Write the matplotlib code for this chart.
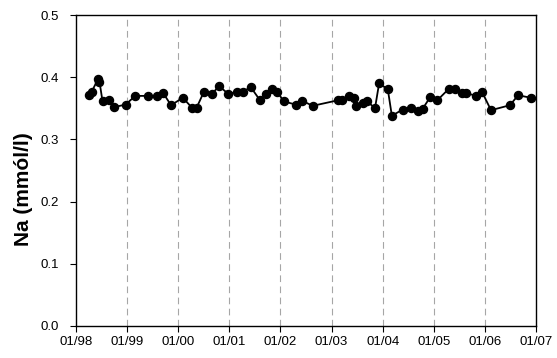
import matplotlib
matplotlib.use("Agg")
import matplotlib.pyplot as plt
import numpy as np

plt.rcParams['font.family'] = ['Liberation Sans', 'DejaVu Sans']

# sampling time (decimal year) and sodium concentration
t = [1998.26, 1998.31, 1998.43, 1998.46, 1998.52, 1998.64, 1998.75, 1998.97,
     1999.16, 1999.40, 1999.58, 1999.71, 1999.86, 2000.09, 2000.27, 2000.36,
     2000.50, 2000.66, 2000.80, 2000.98, 2001.16, 2001.27, 2001.42, 2001.60,
     2001.72, 2001.83, 2001.93, 2002.07, 2002.30, 2002.43, 2002.63, 2003.13,
     2003.20, 2003.35, 2003.43, 2003.48, 2003.61, 2003.69, 2003.85, 2003.93,
     2004.10, 2004.18, 2004.39, 2004.55, 2004.70, 2004.78, 2004.93, 2005.07,
     2005.29, 2005.42, 2005.55, 2005.63, 2005.82, 2005.94, 2006.12, 2006.49,
     2006.65, 2006.90]
na = [0.371, 0.377, 0.397, 0.393, 0.361, 0.363, 0.352, 0.356,
      0.370, 0.370, 0.370, 0.374, 0.355, 0.367, 0.351, 0.351,
      0.376, 0.373, 0.386, 0.373, 0.377, 0.377, 0.384, 0.363,
      0.373, 0.381, 0.377, 0.361, 0.356, 0.362, 0.354, 0.363,
      0.363, 0.370, 0.366, 0.354, 0.358, 0.362, 0.350, 0.390,
      0.381, 0.338, 0.348, 0.350, 0.345, 0.349, 0.368, 0.363,
      0.381, 0.381, 0.375, 0.375, 0.370, 0.377, 0.347, 0.355,
      0.371, 0.367]

years = np.arange(1998, 2008)
year_labels = ['01/%02d' % (y % 100) for y in years]

fig = plt.figure(figsize=(5.57, 3.58), dpi=100)
ax = fig.add_axes([0.1364, 0.0894, 0.8259, 0.8686])

for y in years[1:-1]:
    ax.axvline(y, color='#a6a6a6', lw=0.8, ls=(0, (6, 4)), zorder=0)

ax.plot(t, na, '-o', color='black', lw=1.3, ms=5.8, zorder=3)

ax.set_xlim(1998, 2007)
ax.set_ylim(0, 0.5)
ax.set_xticks(years)
ax.set_xticklabels(year_labels)
ax.set_yticks(np.arange(0, 0.51, 0.1))
ax.set_yticklabels(['%.1f' % v for v in np.arange(0, 0.51, 0.1)])
ax.tick_params(labelsize=9.5, length=4, width=0.8, direction='out')
ax.tick_params(axis='y', pad=8)
ax.tick_params(axis='x', pad=3)
ax.set_ylabel('Na (mmól/l)', fontsize=15, fontweight='bold')
ax.yaxis.set_label_coords(-0.093, 0.44)

for s in ax.spines.values():
    s.set_linewidth(1.0)

fig.savefig('out.png', dpi=100)
